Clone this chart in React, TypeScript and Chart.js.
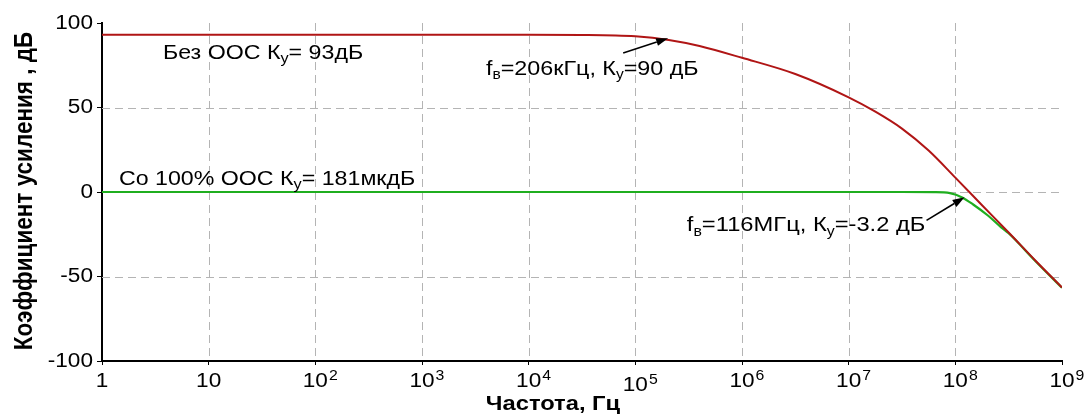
import React, { useEffect, useRef } from "react";
import { Chart, registerables } from "chart.js";

Chart.register(...registerables);

// ---------- data ----------
const decades = [1, 10, 100, 1e3, 1e4, 1e5, 1e6, 1e7, 1e8, 1e9];
const decadeExp = [0, 1, 2, 3, 4, 5, 6, 7, 8, 9];
const yTicks = [-100, -50, 0, 50, 100];
const yTickLabels = ["-100", "-50", "0", "50", "100"];

// без ООС (open loop)
const freqNoFb = [1, 1e4, 3.16e4, 1e5, 2.06e5, 4e5, 1e6, 3.16e6, 1e7, 1.78e7, 3.16e7, 5.62e7, 1e8, 1.78e8, 3.16e8, 5.62e8, 1e9];
const gainNoFb = [93, 93, 92.9, 92.1, 90, 86.4, 79.4, 69.8, 56, 47.5, 37.5, 24.5, 8.5, -7.8, -24, -40.5, -56.5];

// со 100% ООС (closed loop)
const freqFb = [1, 1e6, 3.16e7, 6.3e7, 8.9e7, 1.16e8, 1.47e8, 2.02e8, 2.69e8, 3.16e8, 5.62e8, 1e9];
const gainFb = [0, 0, 0, -0.1, -0.7, -3.2, -7.4, -13.9, -20.9, -24.4, -40.8, -56.7];

const xTitle = "Частота, Гц";
const yTitle = "Коэффициент усиления , дБ";

type Part = { t: string; sub?: boolean };
const labelNoFb: Part[] = [{ t: "Без ООС К" }, { t: "у", sub: true }, { t: "= 93дБ" }];
const labelFb: Part[] = [{ t: "Со 100% ООС К" }, { t: "у", sub: true }, { t: "= 181мкдБ" }];
const labelF1: Part[] = [{ t: "f" }, { t: "в", sub: true }, { t: "=206кГц, К" }, { t: "у", sub: true }, { t: "=90 дБ" }];
const labelF2: Part[] = [{ t: "f" }, { t: "в", sub: true }, { t: "=116МГц, К" }, { t: "у", sub: true }, { t: "=-3.2 дБ" }];

// annotation anchors in data coordinates: [freq, dB]
const annotations = [
  { parts: labelNoFb, at: [3.73, 78.7], size: 20, sx: 1.16 },
  { parts: labelFb, at: [1.44, 4.1], size: 20, sx: 1.16 },
  { parts: labelF1, at: [3980, 69.4], size: 21, sx: 1.11, from: [76900, 82.2], to: [2.03e5, 91] },
  { parts: labelF2, at: [3.04e5, -23.1], size: 21, sx: 1.13, from: [5.37e7, -16.8], to: [1.22e8, -3.1] },
];

const FONT = '"Liberation Sans", Arial, Helvetica, sans-serif';
const SX = 1.13; // horizontal text stretch of the original picture

function textS(ctx: CanvasRenderingContext2D, s: string, x: number, y: number, align: string, sx: number) {
  const w = ctx.measureText(s).width * sx;
  const left = align === "left" ? x : align === "center" ? x - w / 2 : x - w;
  ctx.save();
  ctx.translate(left, y);
  ctx.scale(sx, 1);
  ctx.textAlign = "left";
  ctx.fillText(s, 0, 0);
  ctx.restore();
  return w;
}

function drawRich(ctx: CanvasRenderingContext2D, parts: Part[], x: number, y: number, size: number, sx: number) {
  let cx = x;
  ctx.textBaseline = "alphabetic";
  for (const p of parts) {
    if (p.sub) {
      ctx.font = `${Math.round(size * 0.68)}px ${FONT}`;
      cx += textS(ctx, p.t, cx, y + size * 0.22, "left", sx);
    } else {
      ctx.font = `${size}px ${FONT}`;
      cx += textS(ctx, p.t, cx, y, "left", sx);
    }
  }
}

function drawArrow(ctx: CanvasRenderingContext2D, x1: number, y1: number, x2: number, y2: number) {
  const ang = Math.atan2(y2 - y1, x2 - x1);
  const hl = 12, hw = 4;
  const bx = x2 - hl * Math.cos(ang), by = y2 - hl * Math.sin(ang);
  ctx.beginPath();
  ctx.moveTo(x1, y1);
  ctx.lineTo(bx, by);
  ctx.lineWidth = 1.6;
  ctx.strokeStyle = "#000";
  ctx.stroke();
  ctx.beginPath();
  ctx.moveTo(x2, y2);
  ctx.lineTo(bx + hw * Math.sin(ang), by - hw * Math.cos(ang));
  ctx.lineTo(bx - hw * Math.sin(ang), by + hw * Math.cos(ang));
  ctx.closePath();
  ctx.fillStyle = "#000";
  ctx.fill();
}

const overlay = {
  id: "overlay",
  beforeDatasetsDraw(chart: any) {
    const { ctx, chartArea: a, scales } = chart;
    const x = scales.x, y = scales.y;
    ctx.save();
    ctx.strokeStyle = "#b4b4b4";
    ctx.lineWidth = 1;
    ctx.setLineDash([8, 5]);
    decades.forEach((v) => {
      if (v <= 1 || v >= 1e9) return;
      const px = Math.round(x.getPixelForValue(v)) + 0.5;
      ctx.beginPath();
      ctx.moveTo(px, a.top);
      ctx.lineTo(px, a.bottom);
      ctx.stroke();
    });
    yTicks.forEach((v) => {
      if (v === 100 || v === -100) return;
      const py = Math.round(y.getPixelForValue(v)) + 0.5;
      ctx.beginPath();
      ctx.moveTo(a.left, py);
      ctx.lineTo(a.right, py);
      ctx.stroke();
    });
    ctx.restore();
  },
  afterDraw(chart: any) {
    const { ctx, chartArea: a, scales, width } = chart;
    const x = scales.x, y = scales.y;
    ctx.save();
    ctx.fillStyle = "#000";
    // y tick labels
    ctx.font = `20px ${FONT}`;
    ctx.textBaseline = "middle";
    yTicks.forEach((v, i) => {
      textS(ctx, yTickLabels[i], a.left - 9, y.getPixelForValue(v), "right", SX);
    });
    // x tick labels
    ctx.textBaseline = "alphabetic";
    decades.forEach((v, i) => {
      const px = x.getPixelForValue(v);
      const e = decadeExp[i];
      const base = a.bottom + 26 + (e === 5 ? 3.5 : 0);
      ctx.font = `20px ${FONT}`;
      if (e === 0) {
        textS(ctx, "1", px, base, "center", SX);
      } else {
        const w = ctx.measureText("10").width * SX;
        const start = px - w / 2;
        textS(ctx, "10", start, base, "left", SX);
        if (e > 1) {
          ctx.font = `14px ${FONT}`;
          textS(ctx, String(e), start + w + 1, base - 7, "left", SX);
        }
      }
    });
    // x title
    ctx.font = `bold 21px ${FONT}`;
    textS(ctx, xTitle, width / 2 + 10, a.bottom + 49, "center", SX);
    // y title
    ctx.save();
    ctx.translate(25, (a.top + a.bottom) / 2 - 1);
    ctx.scale(1.15, 1);
    ctx.rotate(-Math.PI / 2);
    ctx.font = `bold 22.5px ${FONT}`;
    ctx.textAlign = "center";
    ctx.textBaseline = "middle";
    ctx.fillText(yTitle, 0, 0);
    ctx.restore();
    // annotations
    annotations.forEach((an: any) => {
      const lx = x.getPixelForValue(an.at[0]);
      const ly = y.getPixelForValue(an.at[1]);
      ctx.fillStyle = "#000";
      drawRich(ctx, an.parts, lx, ly, an.size, an.sx);
      if (an.from) {
        drawArrow(
          ctx,
          x.getPixelForValue(an.from[0]),
          y.getPixelForValue(an.from[1]),
          x.getPixelForValue(an.to[0]),
          y.getPixelForValue(an.to[1])
        );
      }
    });
    ctx.restore();
  },
};

export default function App() {
  const ref = useRef<HTMLCanvasElement | null>(null);
  useEffect(() => {
    if (!ref.current) return;
    Chart.defaults.font.family = FONT;
    const chart = new Chart(ref.current, {
      type: "line",
      data: {
        datasets: [
          {
            label: "Без ООС",
            data: freqNoFb.map((f, i) => ({ x: f, y: gainNoFb[i] })),
            borderColor: "#b01515",
            borderWidth: 2,
            pointRadius: 0,
            cubicInterpolationMode: "monotone",
            fill: false,
          },
          {
            label: "Со 100% ООС",
            data: freqFb.map((f, i) => ({ x: f, y: gainFb[i] })),
            borderColor: "#1fae1f",
            borderWidth: 2.2,
            pointRadius: 0,
            cubicInterpolationMode: "monotone",
            fill: false,
          },
        ],
      },
      options: {
        responsive: false,
        animation: false,
        layout: { padding: { left: 0, top: 23, right: 24, bottom: 0 } },
        plugins: { legend: { display: false }, tooltip: { enabled: false } },
        scales: {
          x: {
            type: "logarithmic",
            min: 1,
            max: 1e9,
            afterBuildTicks: (s: any) => {
              s.ticks = decades.map((v) => ({ value: v }));
            },
            afterFit: (s: any) => {
              s.height = 53;
            },
            ticks: { display: false },
            grid: { drawOnChartArea: false, drawTicks: true, tickLength: 4, tickColor: "#000", tickWidth: 1 },
            border: { color: "#000", width: 2 },
          },
          y: {
            min: -100,
            max: 100,
            afterBuildTicks: (s: any) => {
              s.ticks = yTicks.map((v) => ({ value: v }));
            },
            afterFit: (s: any) => {
              s.width = 102;
            },
            ticks: { display: false },
            grid: { drawOnChartArea: false, drawTicks: true, tickLength: 5, tickColor: "#000", tickWidth: 1 },
            border: { color: "#000", width: 2 },
          },
        },
      },
      plugins: [overlay],
    } as any);
    return () => chart.destroy();
  }, []);
  return (
    <div style={{ position: "absolute", left: 0, top: 0, width: 1086, height: 414, background: "#fff" }}>
      <canvas ref={ref} width={1086} height={414} style={{ display: "block" }} />
    </div>
  );
}
